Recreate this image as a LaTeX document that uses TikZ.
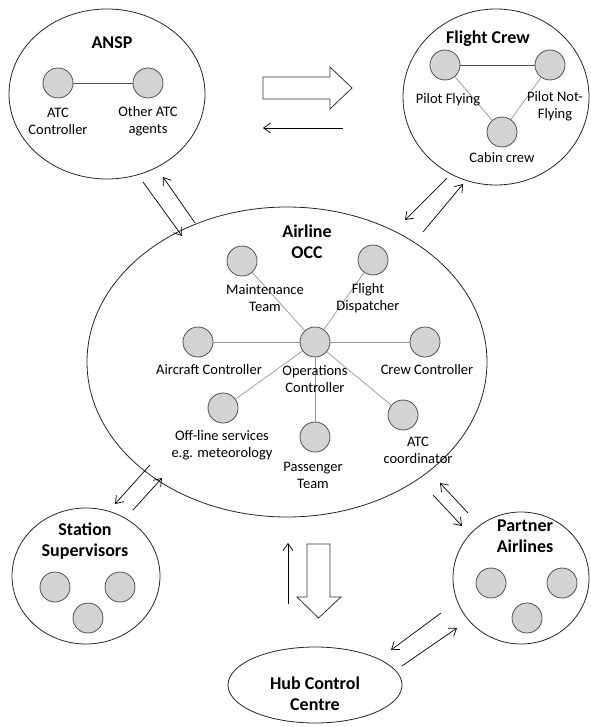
\documentclass[tikz,border=0pt]{standalone}
\usepackage{fontspec}
\setmainfont{Carlito}
\usetikzlibrary{shapes.geometric, arrows.meta}
\definecolor{membergray}{RGB}{211,211,211}
\definecolor{rimgray}{RGB}{80,80,80}
\definecolor{linkgray}{RGB}{150,150,150}

\tikzset{
  group/.style={draw=black!85, line width=0.8pt, ellipse, inner sep=0pt},
  member/.style={draw=rimgray, line width=0.8pt, fill=membergray, circle, minimum size=30pt, inner sep=0pt},
  title/.style={font=\fontsize{18}{21}\selectfont\bfseries, align=center},
  role/.style={font=\fontsize{14.5}{17}\selectfont, align=center, inner sep=1pt},
  link/.style={draw=linkgray, line width=0.7pt},
  flow/.style={-{Straight Barb[length=7pt,width=10pt]}, line width=0.7pt},
  bigarrow/.style={draw=black!80, line width=0.8pt, fill=white}
}

\begin{document}
\begin{tikzpicture}[x=1pt, y=-1pt]
  \useasboundingbox (0,0) rectangle (590,727);

  % groups
  \node[group, minimum width=196pt, minimum height=170pt] (ansp) at (107,94) {};
  \node[group, minimum width=186pt, minimum height=176pt] (crew) at (496,97) {};
  \node[group, minimum width=400pt, minimum height=310pt] (occ) at (287,362) {};
  \node[group, minimum width=148pt, minimum height=136pt] (station) at (86,576) {};
  \node[group, minimum width=136pt, minimum height=132pt] (partner) at (521,578) {};
  \node[group, minimum width=174pt, minimum height=76pt] (hub) at (315,685) {};

  % ANSP
  \node[title] (ansptitle) at (112,43) {ANSP};
  \node[member] (atcc) at (58,83) {};
  \node[member] (atco) at (148,83) {};
  \draw[rimgray, line width=0.7pt] (atcc) -- (atco);
  \node[role] (atcclab) at (58,121) {ATC\\Controller};
  \node[role] (atcolab) at (148,121) {Other ATC\\agents};

  % Flight crew
  \node[title] (crewtitle) at (488,39) {Flight Crew};
  \node[member] (pf) at (445,65) {};
  \node[member] (pnf) at (550,65) {};
  \node[member] (cabin) at (502,132) {};
  \draw[rimgray, line width=0.7pt] (pf) -- (pnf);
  \draw[link] (pf) -- (cabin);
  \draw[link] (pnf) -- (cabin);
  \node[role] (pflab) at (448,100) {Pilot Flying};
  \node[role] (pnflab) at (555,106) {Pilot Not-\\Flying};
  \node[role] (cabinlab) at (502,158) {Cabin crew};

  % Airline OCC
  \node[title] (occtitle) at (307,242) {Airline\\OCC};
  \node[member] (ops) at (315,342) {};
  \node[member] (maint) at (242,261) {};
  \node[member] (disp) at (373,260) {};
  \node[member] (acft) at (198,342) {};
  \node[member] (crewc) at (425,342) {};
  \node[member] (offline) at (223,408) {};
  \node[member] (pax) at (315,437) {};
  \node[member] (atcco) at (403,415) {};
  \foreach \m in {maint,disp,acft,crewc,offline,pax,atcco}
    \draw[link] (ops) -- (\m);
  \node[role] (maintlab) at (265,298) {Maintenance\\Team};
  \node[role] (displab) at (368,298) {Flight\\Dispatcher};
  \node[role] (acftlab) at (209,370) {Aircraft Controller};
  \node[role] (opslab) at (315,379) {Operations\\Controller};
  \node[role] (crewclab) at (427,370) {Crew Controller};
  \node[role] (offlinelab) at (222,445) {Off-line services\\e.g. meteorology};
  \node[role] (paxlab) at (313,475) {Passenger\\Team};
  \node[role] (atccolab) at (418,450) {ATC\\coordinator};

  % Station supervisors
  \node[title] (stationtitle) at (85,541) {Station\\Supervisors};
  \node[member] (st1) at (55,587) {};
  \node[member] (st2) at (120,587) {};
  \node[member] (st3) at (88,618) {};

  % Partner airlines
  \node[title] (partnertitle) at (525,536) {Partner\\Airlines};
  \node[member] (pa1) at (491,583) {};
  \node[member] (pa2) at (562,583) {};
  \node[member] (pa3) at (527,618) {};

  % Hub control centre
  \node[title] (hubtitle) at (315,694) {Hub Control\\Centre};

  % arrow ends
  \coordinate (a1) at (143,182); \coordinate (a2) at (182,236);
  \coordinate (b1) at (195,223); \coordinate (b2) at (163,177);
  \coordinate (c1) at (447,178); \coordinate (c2) at (405,220);
  \coordinate (d1) at (423,232); \coordinate (d2) at (463,184);
  \coordinate (e1) at (150,465); \coordinate (e2) at (115,504);
  \coordinate (f1) at (133,510); \coordinate (f2) at (162,478);
  \coordinate (g1) at (468,513); \coordinate (g2) at (440,483);
  \coordinate (h1) at (433,495); \coordinate (h2) at (462,526);
  \coordinate (i1) at (441,613); \coordinate (i2) at (391,650);
  \coordinate (j1) at (402,666); \coordinate (j2) at (457,628);
  \coordinate (k1) at (288,604); \coordinate (k2) at (288,543);
  \coordinate (l1) at (343,128); \coordinate (l2) at (263,128);

  % exchanges
  \draw[flow] (a1) -- (a2);
  \draw[flow] (b1) -- (b2);
  \draw[flow] (c1) -- (c2);
  \draw[flow] (d1) -- (d2);
  \draw[flow] (e1) -- (e2);
  \draw[flow] (f1) -- (f2);
  \draw[flow] (g1) -- (g2);
  \draw[flow] (h1) -- (h2);
  \draw[flow] (i1) -- (i2);
  \draw[flow] (j1) -- (j2);
  \draw[flow] (k1) -- (k2);
  \draw[flow] (l1) -- (l2);

  % hollow arrows
  \draw[bigarrow] (263,77) -- (330,77) -- (330,67) -- (352,88) -- (330,109) -- (330,99) -- (263,99) -- cycle;
  \draw[bigarrow] (307,544) -- (330,544) -- (330,597) -- (341,597) -- (318.5,618) -- (297,597) -- (307,597) -- cycle;
\end{tikzpicture}
\end{document}
